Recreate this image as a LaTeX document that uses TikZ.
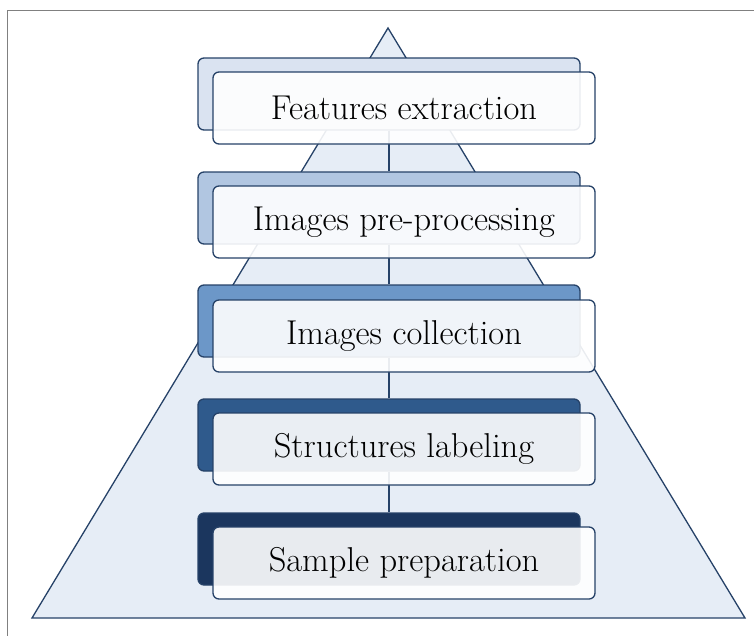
\documentclass[tikz,border=0pt]{standalone}
\definecolor{popdark}{RGB}{38, 66, 104}
\definecolor{poptri}{RGB}{230, 237, 246}
\definecolor{popone}{RGB}{218, 227, 241}
\definecolor{poptwo}{RGB}{177, 198, 225}
\definecolor{popthree}{RGB}{108, 151, 200}
\definecolor{popfour}{RGB}{47, 90, 140}
\definecolor{popfive}{RGB}{27, 54, 94}
\usepackage{tikz}
\usetikzlibrary{shapes, arrows.meta, positioning, calc}

\begin{document}
\begin{tikzpicture}[x=1pt, y=-1pt,
  back/.style={draw=popdark, rounded corners=6pt, line width=1.3pt,
               minimum width=382pt, minimum height=72pt},
  front/.style={draw=popdark, fill=white, fill opacity=0.9, text opacity=1,
                rounded corners=6pt, line width=1.3pt,
                minimum width=382pt, minimum height=72pt,
                font=\fontsize{34.5}{40}\selectfont},
  link/.style={draw=popdark, line width=1.3pt}
]
  \useasboundingbox (0,0) rectangle (754,635);
  \draw[gray, line width=1pt] (7,10) rectangle (770,650);

  % pyramid
  \draw[draw=popdark, fill=poptri, line width=1.3pt]
    (388,28) -- (745,618) -- (32,618) -- cycle;

  \node[back, fill=popone] (b1) at (389, 94) {};
  \node[back, fill=poptwo] (b2) at (389, 208) {};
  \node[back, fill=popthree] (b3) at (389, 321) {};
  \node[back, fill=popfour] (b4) at (389, 435) {};
  \node[back, fill=popfive] (b5) at (389, 549) {};

  \draw[link] (b1) -- (b2);
  \draw[link] (b2) -- (b3);
  \draw[link] (b3) -- (b4);
  \draw[link] (b4) -- (b5);

  \node[front] (f1) at (404, 108) {Features extraction};
  \node[front] (f2) at (404, 222) {Images pre-processing};
  \node[front] (f3) at (404, 336) {Images collection};
  \node[front] (f4) at (404, 449) {Structures labeling};
  \node[front] (f5) at (404, 563) {Sample preparation};
\end{tikzpicture}
\end{document}
